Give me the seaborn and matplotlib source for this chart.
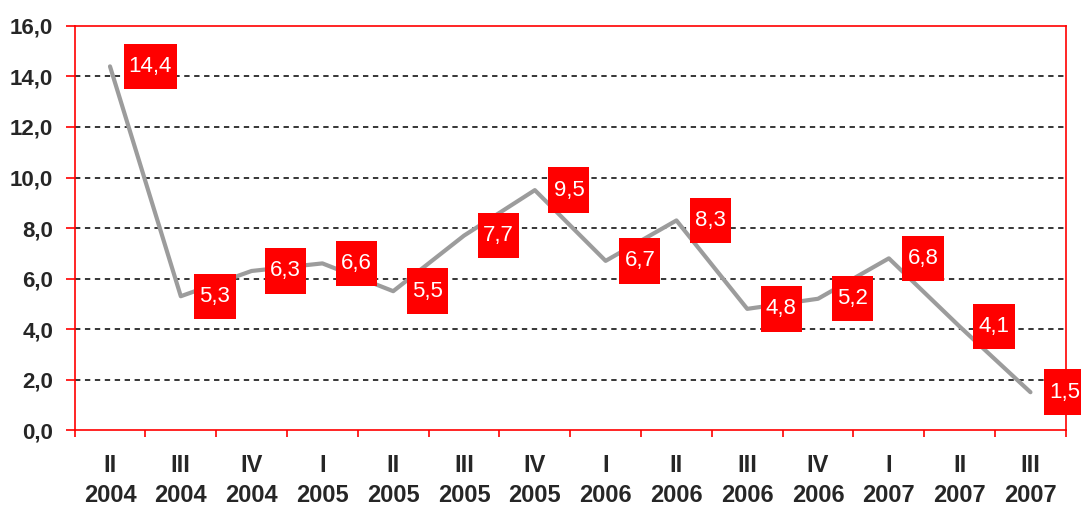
import matplotlib
matplotlib.use("Agg")
import matplotlib.pyplot as plt
import numpy as np
import pandas as pd
import seaborn as sns
from matplotlib.path import Path
from matplotlib.ticker import FixedLocator

quarters = ["II", "III", "IV", "I", "II", "III", "IV", "I", "II", "III", "IV", "I", "II", "III"]
years = ["2004", "2004", "2004", "2005", "2005", "2005", "2005", "2006", "2006", "2006", "2006", "2007", "2007", "2007"]
values = [14.4, 5.3, 6.3, 6.6, 5.5, 7.7, 9.5, 6.7, 8.3, 4.8, 5.2, 6.8, 4.1, 1.5]
y_ticks = [0, 2, 4, 6, 8, 10, 12, 14, 16]

RED = "#FF0000"
GREY = "#9C9C9C"


def fmt(v: float) -> str:
    return f"{v:.1f}".replace(".", ",")


def tall_box(x0, y0, width, height, mutation_size):
    # label boxes in the original are taller than the text needs
    px = 0.23 * mutation_size
    py = 0.55 * mutation_size
    x0, y0 = x0 - px, y0 - py
    x1, y1 = x0 + width + 2 * px, y0 + height + 2 * py
    return Path([(x0, y0), (x1, y0), (x1, y1), (x0, y1), (x0, y0)], closed=True)


def main() -> None:
    sns.set_theme(style="white")
    plt.rcParams["font.family"] = ["Liberation Sans", "DejaVu Sans"]

    df = pd.DataFrame({"pos": np.arange(len(values)), "value": values})

    fig = plt.figure(figsize=(10.81, 5.09), dpi=100)
    ax = fig.add_axes([0.069, 0.155, 0.917, 0.794])

    sns.lineplot(data=df, x="pos", y="value", color=GREY, lw=3, ax=ax, zorder=3)

    for x, v in zip(df["pos"], df["value"]):
        ax.annotate(fmt(v), xy=(x, v), xytext=(13.5, 0), textcoords="offset points",
                    ha="left", va="center", color="white", fontsize=16,
                    bbox=dict(boxstyle=tall_box, fc=RED, ec="none"),
                    annotation_clip=False, zorder=5)

    ax.set_xlim(-0.5, len(values) - 0.5)
    ax.set_ylim(0, 16)
    ax.set_yticks(y_ticks)
    ax.set_yticklabels([fmt(t) for t in y_ticks], fontweight="bold", fontsize=16)
    ax.set_xticks(df["pos"])
    ax.set_xticklabels([f"{q}\n{y}" for q, y in zip(quarters, years)], fontweight="bold",
                       fontsize=17, linespacing=1.4)
    ax.xaxis.set_minor_locator(FixedLocator(np.arange(-0.5, len(values), 1.0)))
    ax.tick_params(axis="x", which="major", length=0, pad=17)
    ax.tick_params(axis="x", which="minor", length=5, width=1.2, color=RED, direction="out", bottom=True)
    ax.tick_params(axis="y", length=6.5, width=1.2, color=RED, direction="out", left=True, pad=9)
    ax.set_xlabel("")
    ax.set_ylabel("")

    for t in y_ticks[1:-1]:
        ax.axhline(t, color="black", lw=1.1, ls=(0, (3.5, 3)), zorder=1)

    for s in ax.spines.values():
        s.set_color(RED)
        s.set_linewidth(1.2)
        s.set_visible(True)

    fig.savefig("out.png", dpi=100)
    plt.close(fig)


if __name__ == "__main__":
    main()
